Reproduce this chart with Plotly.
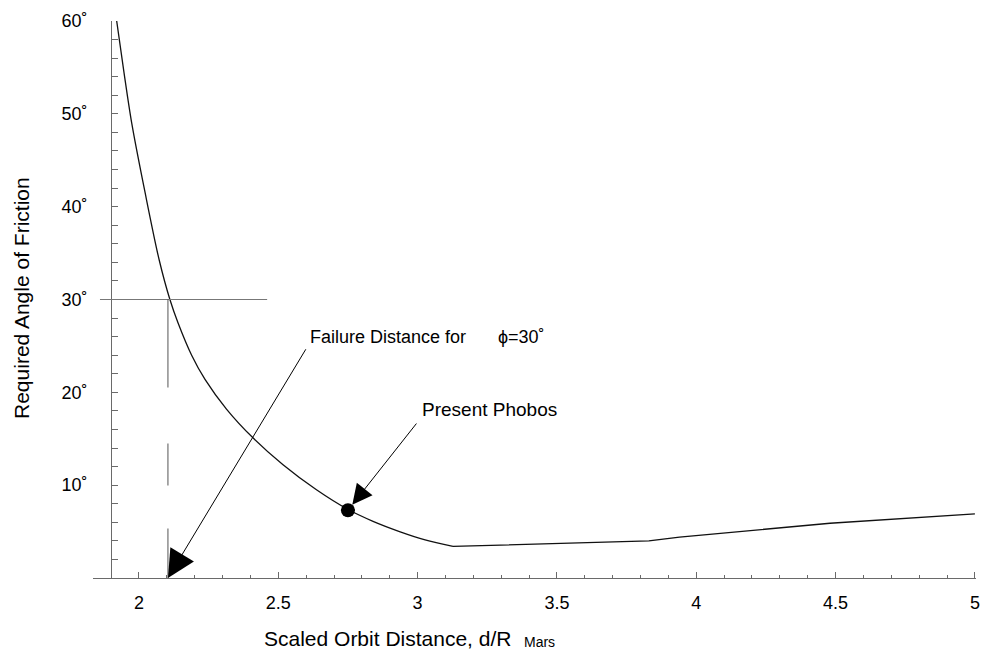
import plotly.graph_objects as go

# Required friction angle (degrees) versus scaled orbit distance d/R_Mars
orbit_distance = [1.920, 1.946, 1.974, 2.022, 2.073, 2.111, 2.140, 2.189, 2.237,
                  2.314, 2.409, 2.517, 2.637, 2.749, 2.840, 2.935, 3.027, 3.127,
                  3.830, 3.940, 4.480, 5.000]
friction_angle = [60.0, 54.5, 49.0, 41.5, 34.2, 30.0, 27.5, 24.0, 21.4,
                  18.2, 15.1, 12.2, 9.5, 7.4, 6.1, 5.0, 4.1, 3.4,
                  4.0, 4.4, 5.9, 6.9]
# index of the minimum where the smooth branch meets the outer branch
branch_break = 17

# Present orbit of Phobos
phobos_distance = 2.75
phobos_angle = 7.3

# Failure distance for a 30 degree friction angle
failure_angle = 30
failure_distance = 2.104

# Axis ticks
x_ticks = [2, 2.5, 3, 3.5, 4, 4.5, 5]
x_tick_labels = ["2", "2.5", "3", "3.5", "4", "4.5", "5"]
y_ticks = [10, 20, 30, 40, 50, 60]
y_tick_labels = ["10˚", "20˚", "30˚", "40˚", "50˚", "60˚"]

FONT = "Liberation Sans, Arial, Helvetica, sans-serif"
AXIS_GRAY = "#6a6a6a"
CURVE = dict(color="#111111", width=1.3)

fig = go.Figure()

# smooth inner branch, then the outer branch with its corners kept
fig.add_trace(go.Scatter(
    x=orbit_distance[:branch_break + 1], y=friction_angle[:branch_break + 1],
    mode="lines", line=dict(**CURVE, shape="spline", smoothing=0.9),
    hoverinfo="skip", showlegend=False,
))
fig.add_trace(go.Scatter(
    x=orbit_distance[branch_break:], y=friction_angle[branch_break:],
    mode="lines", line=CURVE, hoverinfo="skip", showlegend=False,
))
fig.add_trace(go.Scatter(
    x=[phobos_distance], y=[phobos_angle], mode="markers",
    marker=dict(size=14, color="black"), cliponaxis=False,
    hoverinfo="skip", showlegend=False,
))

# 30 degree guide: horizontal reference and dashed drop to the axis
guide_span = (1.86, 2.46)
fig.add_shape(type="line", x0=guide_span[0], x1=guide_span[1],
              y0=failure_angle, y1=failure_angle,
              line=dict(color="#777777", width=1))
fig.add_shape(type="line", x0=failure_distance, x1=failure_distance,
              y0=failure_angle, y1=0,
              line=dict(color="#555555", width=1,
                        dash="88px,56px,42px,43px,50px"))

text_font = dict(family=FONT, size=18, color="black")

fig.add_annotation(x=2.606, y=26.0, text="Failure Distance for",
                   xanchor="left", yanchor="middle", showarrow=False, font=text_font)
fig.add_annotation(x=3.283, y=26.0, text="ϕ=30˚",
                   xanchor="left", yanchor="middle", showarrow=False, font=text_font)
fig.add_annotation(x=3.007, y=18.1, text="Present Phobos",
                   xanchor="left", yanchor="middle", showarrow=False,
                   font=dict(family=FONT, size=19, color="black"))

# Arrows
fig.add_annotation(x=failure_distance, y=0, ax=2.602, ay=24.8,
                   axref="x", ayref="y", text="", showarrow=True,
                   arrowhead=2, arrowsize=5.5, arrowwidth=1, arrowcolor="black")
fig.add_annotation(x=phobos_distance, y=phobos_angle, ax=3.0, ay=16.8,
                   axref="x", ayref="y", text="", showarrow=True, standoff=7,
                   arrowhead=2, arrowsize=4, arrowwidth=1, arrowcolor="black")

# Axis titles
title_font = dict(family=FONT, size=21, color="black")
fig.add_annotation(xref="paper", yref="paper", x=-0.081, y=0.5036,
                   text="Required Angle of Friction", textangle=-90,
                   showarrow=False, xanchor="center", yanchor="middle",
                   font=title_font)
fig.add_annotation(xref="paper", yref="paper", x=0.1925, y=-0.108,
                   text="Scaled Orbit Distance, d/R",
                   showarrow=False, xanchor="left", yanchor="middle",
                   borderpad=0, font=title_font)
fig.add_annotation(xref="paper", yref="paper", x=0.4875, y=-0.1145,
                   text="Mars",
                   showarrow=False, xanchor="left", yanchor="middle",
                   borderpad=0, font=dict(family=FONT, size=14, color="black"))

fig.update_layout(
    width=981, height=652,
    margin=dict(l=93, r=5, t=21, b=74),
    paper_bgcolor="white", plot_bgcolor="white",
    font=dict(family=FONT, color="black"),
    showlegend=False,
    xaxis=dict(
        range=[1.835, 5.004], domain=[0, 1],
        showline=True, linecolor=AXIS_GRAY, linewidth=1,
        showgrid=False, zeroline=False,
        tickmode="array", tickvals=x_ticks, ticktext=x_tick_labels,
        ticks="inside", ticklen=6, tickcolor=AXIS_GRAY,
        minor=dict(tickmode="linear", tick0=2, dtick=0.1, ticks="inside",
                   ticklen=3, tickcolor=AXIS_GRAY, showgrid=False),
        tickfont=dict(family=FONT, size=18, color="black"),
        ticklabelstandoff=8, automargin=False,
    ),
    yaxis=dict(
        range=[0, 60], domain=[0, 1], anchor="free", position=0.0205,
        showline=True, linecolor=AXIS_GRAY, linewidth=1,
        showgrid=False, zeroline=False,
        tickmode="array", tickvals=y_ticks, ticktext=y_tick_labels,
        ticks="inside", ticklen=6, tickcolor=AXIS_GRAY,
        minor=dict(tickmode="linear", tick0=0, dtick=2, ticks="inside",
                   ticklen=6, tickcolor=AXIS_GRAY, showgrid=False),
        tickfont=dict(family=FONT, size=18, color="black"),
        ticklabelstandoff=20, automargin=False,
    ),
)

fig.write_html("out.html")
